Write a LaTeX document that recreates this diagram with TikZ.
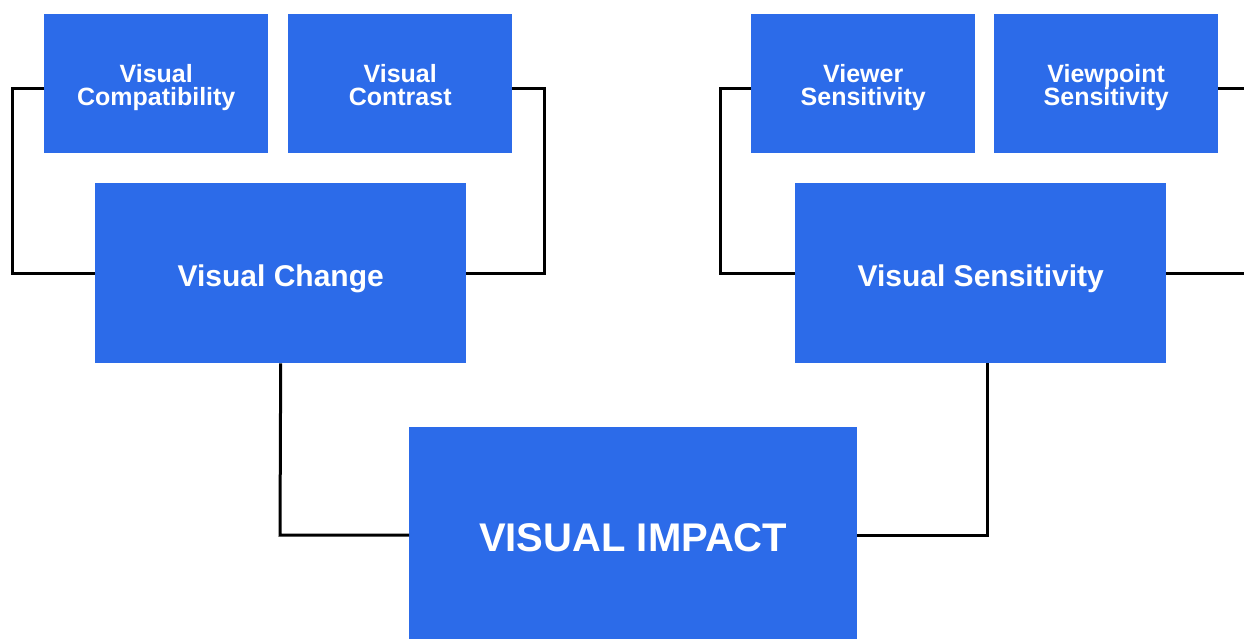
\documentclass[tikz,border=0pt]{standalone}
\usepackage{fontspec}
\setmainfont{Liberation Sans}
\definecolor{boxblue}{HTML}{2C6BE9}
\newcommand\tightlines{\lineskiplimit=-20pt\relax}
\tikzset{
  box/.style={fill=boxblue, draw=none, text=white, align=center,
              inner sep=0pt, anchor=north west},
  small/.style={box, minimum width=224pt, minimum height=139pt,
                text height=44pt, text depth=0pt,
                font=\bfseries\fontsize{25}{23}\selectfont\tightlines},
  mid/.style={box, minimum width=371pt, minimum height=180pt,
              text height=27pt, text depth=1pt,
              font=\bfseries\fontsize{30}{32}\selectfont},
  big/.style={box, minimum width=448pt, minimum height=222pt,
              font=\bfseries\fontsize{40}{44}\selectfont},
  link/.style={draw=black, line width=3pt}
}
\begin{document}
\begin{tikzpicture}[x=1pt, y=-1pt]
  \useasboundingbox (0,0) rectangle (1244,639);
  \clip (0,0) rectangle (1244,639);
  \fill[white] (0,0) rectangle (1244,639);

  % upper row
  \node[small] (vcomp) at (44,14)   {Visual\\Compatibility};
  \node[small] (vcont) at (288,14)  {Visual\\Contrast};
  \node[small] (viewer) at (751,14) {Viewer\\Sensitivity};
  \node[small] (vpoint) at (994,14) {Viewpoint\\Sensitivity};

  % middle row
  \node[mid] (change) at (95,183)  {Visual Change};
  \node[mid] (sens)   at (795,183) {Visual Sensitivity};

  % result
  \node[big] (impact) at (409,427) {VISUAL IMPACT};

  % bend points
  \coordinate (l1) at (12,89);
  \coordinate (l2) at (12,273);
  \coordinate (r1) at (544,89);
  \coordinate (r2) at (544,273);
  \coordinate (s1) at (720,89);
  \coordinate (s2) at (720,273);
  \coordinate (e1) at (1256,89);
  \coordinate (e2) at (1256,273);
  \coordinate (cdown) at (280,535);
  \coordinate (stop) at (987,363);
  \coordinate (sdown) at (987,535);

  % connectors
  \draw[link] (vcomp.west |- l1) -- (l1) -- (l2) -- (change.west |- l2);
  \draw[link] (vcont.east |- r1) -- (r1) -- (r2) -- (change.east |- r2);
  \draw[link] (viewer.west |- s1) -- (s1) -- (s2) -- (sens.west |- s2);
  \draw[link] (vpoint.east |- e1) -- (e1) -- (e2) -- (sens.east |- e2);
  \draw[link] (change.south) -- (cdown) -- (impact.west |- cdown);
  \draw[link] (stop) -- (sdown) -- (impact.east |- sdown);
\end{tikzpicture}
\end{document}
